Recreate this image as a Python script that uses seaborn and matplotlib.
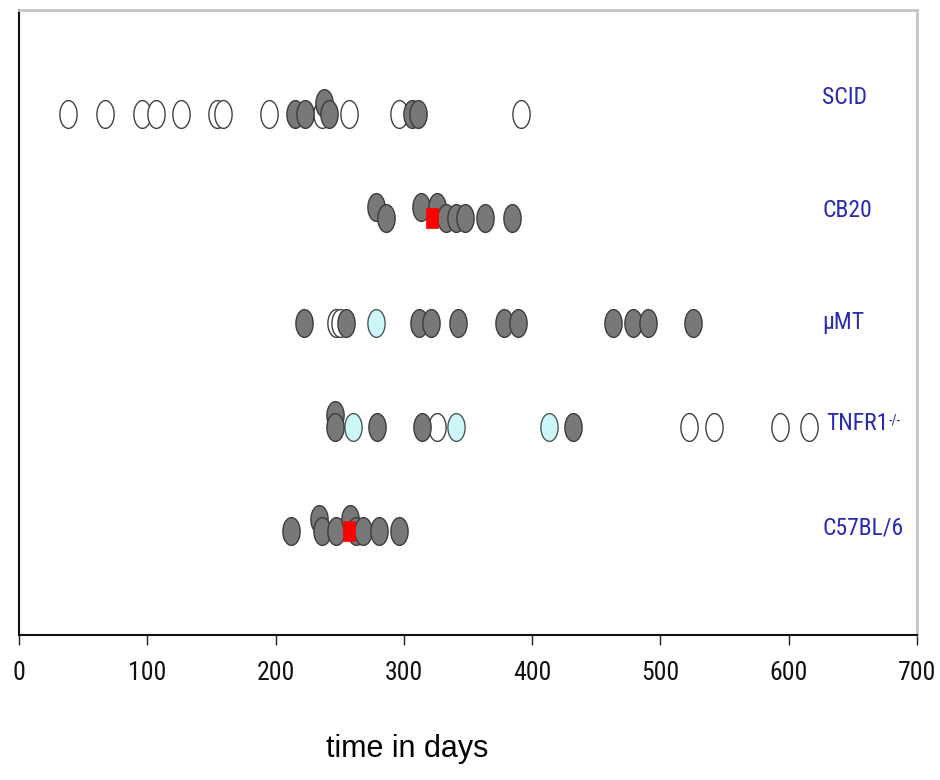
import numpy as np
import pandas as pd
import matplotlib
matplotlib.use("Agg")
import matplotlib.pyplot as plt
from matplotlib.path import Path
from matplotlib import font_manager
import seaborn as sns

# ---------------- data ----------------
strains = ["SCID", "CB20", "\u00b5MT", "TNFR1", "C57BL/6"]

scid_days = [38, 67, 96, 107, 126, 154, 159, 195, 215, 223, 236, 238, 242, 257, 296, 306, 311, 391]
scid_kind = ["O", "O", "O", "O", "O", "O", "O", "O", "F", "F", "O", "F", "F", "O", "O", "F", "F", "O"]
scid_lift = [0, 0, 0, 0, 0, 0, 0, 0, 0, 0, 0, 1, 0, 0, 0, 0, 0, 0]

cb20_days = [278, 286, 313, 326, 333, 341, 348, 363, 384]
cb20_kind = ["F"] * 9
cb20_lift = [1, 0, 1, 1, 0, 0, 0, 0, 0]

umt_days = [222, 247, 250, 255, 278, 312, 321, 342, 378, 389, 463, 479, 490, 525]
umt_kind = ["F", "O", "O", "F", "C", "F", "F", "F", "F", "F", "F", "F", "F", "F"]
umt_lift = [0] * 14

tnfr_days = [246, 246, 260, 279, 314, 326, 341, 413, 432, 522, 542, 593, 616]
tnfr_kind = ["F", "F", "C", "F", "F", "O", "C", "C", "F", "O", "O", "O", "O"]
tnfr_lift = [1, 0, 0, 0, 0, 0, 0, 0, 0, 0, 0, 0, 0]

b6_days = [212, 234, 236, 247, 258, 263, 268, 281, 296]
b6_kind = ["F"] * 9
b6_lift = [0, 1, 0, 0, 1, 0, 0, 0, 0]

median_strain = ["CB20", "C57BL/6"]
median_days = [322, 257]

x_ticks = [0, 100, 200, 300, 400, 500, 600, 700]

# ---------------- table ----------------
rows = []
for s, d, k, l in zip(strains,
                      [scid_days, cb20_days, umt_days, tnfr_days, b6_days],
                      [scid_kind, cb20_kind, umt_kind, tnfr_kind, b6_kind],
                      [scid_lift, cb20_lift, umt_lift, tnfr_lift, b6_lift]):
    for dd, kk, ll in zip(d, k, l):
        rows.append({"strain": s, "days": dd, "kind": kk, "lift": ll})
df = pd.DataFrame(rows)
row_index = {s: i for i, s in enumerate(strains)}
LIFT = 0.11
df["ypos"] = df["strain"].map(row_index) - df["lift"] * LIFT

med = pd.DataFrame({"strain": median_strain, "days": median_days})
med["ypos"] = med["strain"].map(row_index)

# ---------------- style ----------------
sns.set_theme(style="white")
avail = {f.name for f in font_manager.fontManager.ttflist}
narrow = "Liberation Sans"
for cand in ["Liberation Sans Narrow", "Roboto Condensed", "Open Sans Condensed",
             "Noto Sans Condensed", "DejaVu Sans Condensed"]:
    if cand in avail:
        narrow = cand
        break
narrow_stretch = "normal"
if narrow == "Liberation Sans":
    for f in font_manager.fontManager.ttflist:
        if f.name in ("Roboto", "Noto Sans", "Open Sans", "DejaVu Sans") and \
                str(f.stretch) in ("condensed", "semi-condensed", "75", "87.5", "62.5"):
            narrow = f.name
            narrow_stretch = "condensed"
            break

plt.rcParams["font.family"] = [narrow, "DejaVu Sans"]
plt.rcParams["font.stretch"] = narrow_stretch

fig = plt.figure(figsize=(9.4, 7.8), dpi=100)
ax = fig.add_axes([19 / 940, 1 - 635 / 780, (917 - 19) / 940, (635 - 10) / 780])

# ellipse marker (taller than wide)
t = np.linspace(0, 2 * np.pi, 60)
ell = Path(np.column_stack([0.62 * np.cos(t), np.sin(t)]), closed=True)
rect = Path([(-0.3, -0.5), (0.3, -0.5), (0.3, 0.5), (-0.3, 0.5), (-0.3, -0.5)], closed=True)

face = {"F": "#787878", "O": "#ffffff", "C": "#cdf6f8"}
edge = {"F": "#3c3c3c", "O": "#404040", "C": "#4a5a5a"}

for kind in ["O", "C", "F"]:
    sub = df[df["kind"] == kind]
    sns.scatterplot(data=sub, x="days", y="ypos", ax=ax, marker=ell, s=20 ** 2,
                    color=face[kind], edgecolor=edge[kind], linewidth=1.0,
                    legend=False, zorder=3)

sns.scatterplot(data=med, x="days", y="ypos", ax=ax, marker=rect, s=15 ** 2,
                color="#ff0000", edgecolor="#ff0000", linewidth=0.5,
                legend=False, zorder=5)

ax.set_xlim(0, 700)
ax.set_ylim(5, -1)
ax.set_xticks(x_ticks)
ax.set_xticklabels([str(v) for v in x_ticks])
ax.set_yticks([])
ax.set_xlabel("")
ax.set_ylabel("")
ax.tick_params(axis="x", direction="out", length=7, width=1, color="#222222",
               pad=12, labelsize=18.5, labelcolor="#111111", bottom=True)

for side in ["left", "bottom"]:
    ax.spines[side].set_color("#111111")
    ax.spines[side].set_linewidth(1.5)
for side in ["top", "right"]:
    ax.spines[side].set_color("#c4c4c4")
    ax.spines[side].set_linewidth(2)

label_lift = {"SCID": 0.16, "CB20": 0.08, "\u00b5MT": 0.0, "TNFR1": 0.03, "C57BL/6": 0.03}
label_x = {"SCID": 626, "CB20": 626, "\u00b5MT": 626, "TNFR1": 629, "C57BL/6": 626}
for s in strains:
    txt = ax.text(label_x[s], row_index[s] - label_lift[s], s,
                  ha="left", va="center", fontsize=17, color="#2a2ab0")
    if s == "TNFR1":
        ax.annotate("-/-", xy=(1, 0.95), xycoords=txt, ha="left", va="top",
                    fontsize=10, color="#2a2ab0")

fig.text(407 / 940, 1 - 749 / 780, "time in days", ha="center", va="center",
         fontsize=22, color="#000000", family=["Liberation Sans", "DejaVu Sans"],
         stretch="normal")

fig.savefig("out.png", dpi=100, facecolor="white")
